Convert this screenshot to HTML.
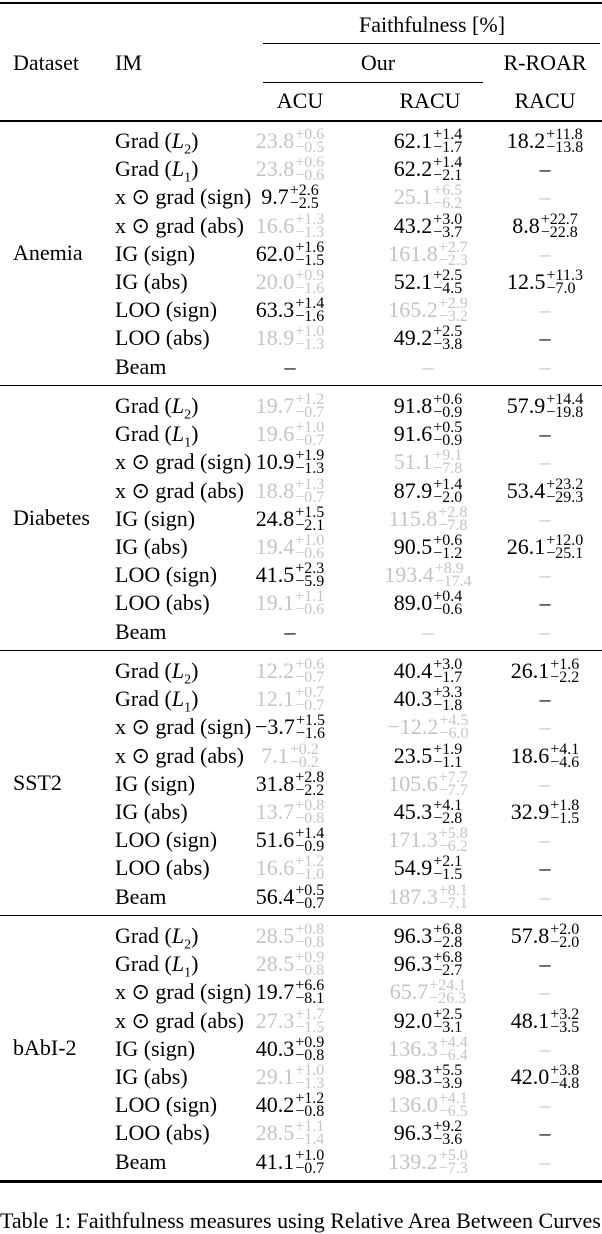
<!DOCTYPE html>
<html><head><meta charset="utf-8">
<style>
body{margin:0;width:602px;height:1216px;overflow:hidden;background:#fff;font-family:"Liberation Serif",serif;color:#000;position:relative}
.r{position:absolute;background:#000;left:0;width:602px}
.t{position:absolute;font-size:22px;line-height:26px;white-space:nowrap}
.c{transform:translateX(-50%)}
.g{color:#c4c4c4}
.s{display:inline-block;vertical-align:middle;font-size:16px;line-height:13px;margin-left:1px;text-align:left;position:relative;top:-2px}
.s span{display:block}
</style></head><body>
<div class="r" style="top:2px;height:2px"></div>
<div class="t c" style="left:432px;top:12px">Faithfulness [%]</div>
<div class="r" style="top:43px;left:263px;width:337px;height:1px"></div>
<div class="t" style="left:13px;top:50px">Dataset</div>
<div class="t" style="left:115px;top:50px">IM</div>
<div class="t c" style="left:378px;top:50px">Our</div>
<div class="t c" style="left:545px;top:50px">R-ROAR</div>
<div class="r" style="top:82px;left:263px;width:220px;height:1px"></div>
<div class="t c" style="left:300px;top:88px">ACU</div>
<div class="t c" style="left:430px;top:88px">RACU</div>
<div class="t c" style="left:545px;top:88px">RACU</div>
<div class="r" style="top:120px;height:2px"></div>
<div id="body"></div>
<div class="t" style="left:0;top:1208px">Table 1: Faithfulness measures using Relative Area Between Curves</div>
<script>
const datasets=["Anemia","Diabetes","SST2","bAbI-2"];
const methods=["Grad (<i>L</i><sub style='font-size:14px'>2</sub>)","Grad (<i>L</i><sub style='font-size:14px'>1</sub>)","x ⊙ grad (sign)","x ⊙ grad (abs)","IG (sign)","IG (abs)","LOO (sign)","LOO (abs)","Beam"];
// each cell: [value, plus, minus, gray]; null value = dash
const acu=[
[["23.8","0.6","0.5",1],["23.8","0.6","0.6",1],["9.7","2.6","2.5",0],["16.6","1.3","1.3",1],["62.0","1.6","1.5",0],["20.0","0.9","1.6",1],["63.3","1.4","1.6",0],["18.9","1.0","1.3",1],[null,0,0,0]],
[["19.7","1.2","0.7",1],["19.6","1.0","0.7",1],["10.9","1.9","1.3",0],["18.8","1.3","0.7",1],["24.8","1.5","2.1",0],["19.4","1.0","0.6",1],["41.5","2.3","5.9",0],["19.1","1.1","0.6",1],[null,0,0,0]],
[["12.2","0.6","0.7",1],["12.1","0.7","0.7",1],["−3.7","1.5","1.6",0],["7.1","0.2","0.2",1],["31.8","2.8","2.2",0],["13.7","0.8","0.8",1],["51.6","1.4","0.9",0],["16.6","1.2","1.0",1],["56.4","0.5","0.7",0]],
[["28.5","0.8","0.8",1],["28.5","0.9","0.8",1],["19.7","6.6","8.1",0],["27.3","1.7","1.5",1],["40.3","0.9","0.8",0],["29.1","1.0","1.3",1],["40.2","1.2","0.8",0],["28.5","1.1","1.4",1],["41.1","1.0","0.7",0]]];
const racu=[
[["62.1","1.4","1.7",0],["62.2","1.4","2.1",0],["25.1","6.5","6.2",1],["43.2","3.0","3.7",0],["161.8","2.7","2.3",1],["52.1","2.5","4.5",0],["165.2","2.9","3.2",1],["49.2","2.5","3.8",0],[null,0,0,1]],
[["91.8","0.6","0.9",0],["91.6","0.5","0.9",0],["51.1","9.1","7.8",1],["87.9","1.4","2.0",0],["115.8","2.8","7.8",1],["90.5","0.6","1.2",0],["193.4","8.9","17.4",1],["89.0","0.4","0.6",0],[null,0,0,1]],
[["40.4","3.0","1.7",0],["40.3","3.3","1.8",0],["−12.2","4.5","6.0",1],["23.5","1.9","1.1",0],["105.6","7.7","7.7",1],["45.3","4.1","2.8",0],["171.3","5.8","6.2",1],["54.9","2.1","1.5",0],["187.3","8.1","7.1",1]],
[["96.3","6.8","2.8",0],["96.3","6.8","2.7",0],["65.7","24.1","26.3",1],["92.0","2.5","3.1",0],["136.3","4.4","6.4",1],["98.3","5.5","3.9",0],["136.0","4.1","6.5",1],["96.3","9.2","3.6",0],["139.2","5.0","7.3",1]]];
const rroar=[
[["18.2","11.8","13.8",0],[null,0,0,0],[null,0,0,1],["8.8","22.7","22.8",0],[null,0,0,1],["12.5","11.3","7.0",0],[null,0,0,1],[null,0,0,0],[null,0,0,1]],
[["57.9","14.4","19.8",0],[null,0,0,0],[null,0,0,1],["53.4","23.2","29.3",0],[null,0,0,1],["26.1","12.0","25.1",0],[null,0,0,1],[null,0,0,0],[null,0,0,1]],
[["26.1","1.6","2.2",0],[null,0,0,0],[null,0,0,1],["18.6","4.1","4.6",0],[null,0,0,1],["32.9","1.8","1.5",0],[null,0,0,1],[null,0,0,0],[null,0,0,1]],
[["57.8","2.0","2.0",0],[null,0,0,0],[null,0,0,1],["48.1","3.2","3.5",0],[null,0,0,1],["42.0","3.8","4.8",0],[null,0,0,1],[null,0,0,0],[null,0,0,1]]];
const body=document.getElementById('body');
function cell(c,x,y,name){
  const d=document.createElement('div');
  d.className='t c'+(c[3]?' g':'');
  d.style.left=x+'px';d.style.top=(y-13)+'px';
  if(c[0]===null){d.textContent='–';}
  else d.innerHTML=c[0]+'<span class="s"><span>+'+c[1]+'</span><span>−'+c[2]+'</span></span>';
  
  
  body.appendChild(d);
}
datasets.forEach((ds,i)=>{
  const y0=141+i*265;
  const lab=document.createElement('div');
  lab.className='t';lab.style.left='13px';lab.style.top=(y0+112-13)+'px';lab.textContent=ds;
  
  
  body.appendChild(lab);
  methods.forEach((m,j)=>{
    const y=y0+j*28.2;
    const ml=document.createElement('div');
    ml.className='t';ml.style.left='115px';ml.style.top=(y-13)+'px';ml.innerHTML=m;
    
    
    body.appendChild(ml);
    cell(acu[i][j],290,y,'acu-value');
    cell(racu[i][j],428,y,'racu-value');
    cell(rroar[i][j],545,y,'rroar-value');
  });
  const rule=document.createElement('div');
  rule.className='r';rule.style.top=(y0+244)+'px';rule.style.height=(i==3?'3px':'1px');
  
  
  body.appendChild(rule);
});
</script>
</body></html>
